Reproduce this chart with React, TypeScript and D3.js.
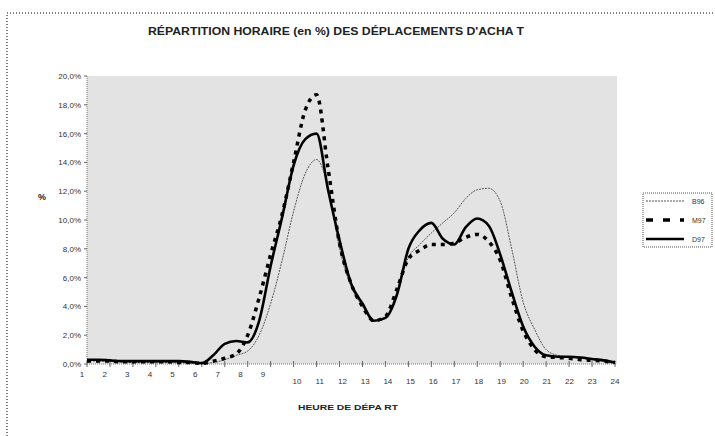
import * as d3 from "d3";

// half-hour grid, values in %
const hours = [
  1, 1.5, 2, 2.5, 3, 3.5, 4, 4.5, 5, 5.5, 6, 6.5, 7, 7.5, 8, 8.5, 9, 9.5, 10,
  10.5, 11, 11.5, 12, 12.5, 13, 13.5, 14, 14.5, 15, 15.5, 16, 16.5, 17, 17.5,
  18, 18.5, 19, 19.5, 20, 20.5, 21, 21.5, 22, 22.5, 23, 23.5, 24,
];

const b96 = [
  0.25, 0.2, 0.2, 0.15, 0.1, 0.1, 0.1, 0.1, 0.1, 0.05, 0.05, 0.1, 0.3, 0.6,
  0.9, 2.0, 4.2, 7.2, 10.6, 13.2, 14.2, 12.3, 8.0, 5.4, 4.0, 3.0, 3.2, 5.0,
  7.4, 8.3, 9.1, 9.8, 10.5, 11.5, 12.1, 12.2, 11.3, 8.0, 4.3, 2.4, 1.0, 0.6,
  0.5, 0.4, 0.3, 0.2, 0.1,
];

const m97 = [
  0.2, 0.2, 0.2, 0.15, 0.15, 0.15, 0.15, 0.15, 0.1, 0.1, 0.05, 0.2, 0.4, 0.7,
  2.0, 4.6, 7.6, 10.4, 14.0, 17.6, 18.7, 13.6, 8.4, 5.6, 4.0, 3.0, 3.3, 5.2,
  7.3, 7.9, 8.3, 8.3, 8.4, 8.8, 9.0, 8.5, 7.2, 4.6, 2.3, 1.0, 0.5, 0.45, 0.4,
  0.3, 0.25, 0.2, 0.1,
];

const d97 = [
  0.3, 0.3, 0.25, 0.2, 0.2, 0.2, 0.2, 0.2, 0.2, 0.15, 0.05, 0.6, 1.4, 1.6,
  1.5, 3.0, 6.8, 10.2, 13.8, 15.6, 16.0, 12.1, 8.6, 5.6, 4.2, 3.0, 3.2, 4.8,
  8.0, 9.3, 9.8, 8.7, 8.3, 9.5, 10.1, 9.6, 7.6, 5.0, 2.6, 1.2, 0.6, 0.5, 0.5,
  0.45, 0.35, 0.25, 0.1,
];

const seriesNames = ["B96", "M97", "D97"];
const xTickLabels = [
  "1", "2", "3", "4", "5", "6", "7", "8", "9", "10", "11", "12", "13", "14",
  "15", "16", "17", "18", "19", "20", "21", "22", "23", "24",
];
const yTickValues = [0, 2, 4, 6, 8, 10, 12, 14, 16, 18, 20];

const title = "RÉPARTITION HORAIRE (en %) DES DÉPLACEMENTS D'ACHA T";
const xTitle = "HEURE DE DÉPA RT";

const W = 715;
const H = 436;
const plot = { left: 87, right: 617, top: 76, bottom: 364 };

const styles = [
  { stroke: "#555", width: 1, dash: "2,1" },
  { stroke: "#000", width: 3.5, dash: "4,5" },
  { stroke: "#000", width: 2.6, dash: null },
];

export default function App() {
  const x = d3.scaleLinear().domain([1, 24]).range([plot.left, 615]);
  const y = d3.scaleLinear().domain([0, 20]).range([plot.bottom, plot.top]);
  // excel put the early labels off their ticks, follow that
  const labelX = d3
    .scaleLinear()
    .domain([1, 9, 10, 24])
    .range([82, 263, 297, 615]);

  const fmt = (v: number) => v.toFixed(1).replace(".", ",") + "%";

  const line = d3
    .line<number>()
    .x((_, i) => x(hours[i]))
    .y((d) => y(d))
    .curve(d3.curveMonotoneX);

  const allSeries = [b96, m97, d97];
  const font = "'Liberation Sans', Arial, sans-serif";

  return (
    <svg
      width={W}
      height={H}
      style={{ position: "absolute", left: 0, top: 0, background: "#fff" }}
      fontFamily={font}
    >
      {/* outer dotted frame */}
      <path
        d={`M7,${H} V13 H${W}`}
        fill="none"
        stroke="#000"
        strokeWidth={1}
        strokeDasharray="1,2"
      />

      <text
        x={336}
        y={35}
        textAnchor="middle"
        fontSize={10}
        fontWeight="bold"
        fill="#222"
        textLength={376}
        lengthAdjust="spacingAndGlyphs"
      >
        {title}
      </text>

      <rect
        x={plot.left}
        y={plot.top}
        width={plot.right - plot.left}
        height={plot.bottom - plot.top}
        fill="#e3e3e3"
      />

      {/* y axis */}
      <line
        x1={plot.left}
        x2={plot.left}
        y1={plot.top}
        y2={plot.bottom}
        stroke="#777"
        strokeDasharray="1,1"
      />
      {yTickValues.map((v) => (
        <g key={v}>
          <line
            x1={plot.left - 3}
            x2={plot.left}
            y1={y(v)}
            y2={y(v)}
            stroke="#666"
          />
          <text
            x={81}
            y={y(v) + 3}
            textAnchor="end"
            fontSize={8}
            fill="#333"
          >
            {fmt(v)}
          </text>
        </g>
      ))}
      <text x={38} y={200} fontSize={9} fontWeight="bold" fill="#222">
        %
      </text>

      {/* x axis */}
      <line
        x1={plot.left}
        x2={plot.right}
        y1={plot.bottom}
        y2={plot.bottom}
        stroke="#777"
        strokeDasharray="1,1"
      />
      {xTickLabels.map((lab, i) => {
        const h = i + 1;
        return (
          <g key={lab}>
            <line
              x1={x(h)}
              x2={x(h)}
              y1={plot.bottom - 3}
              y2={plot.bottom + 3}
              stroke="#666"
            />
            <text
              x={labelX(h)}
              y={h < 10 ? 377 : 384}
              textAnchor="middle"
              fontSize={8}
              fill="#333"
            >
              {lab}
            </text>
          </g>
        );
      })}
      <text
        x={348}
        y={410}
        textAnchor="middle"
        fontSize={8}
        fontWeight="bold"
        fill="#222"
        textLength={100}
        lengthAdjust="spacingAndGlyphs"
      >
        {xTitle}
      </text>

      {/* series */}
      {allSeries.map((s, i) => (
        <path
          key={seriesNames[i]}
          d={line(s) ?? ""}
          fill="none"
          stroke={styles[i].stroke}
          strokeWidth={styles[i].width}
          strokeDasharray={styles[i].dash ?? undefined}
          strokeLinejoin="round"
        />
      ))}

      {/* legend */}
      <rect
        x={643}
        y={193}
        width={69}
        height={54}
        fill="#fff"
        stroke="#555"
        strokeDasharray="1,1"
      />
      {seriesNames.map((name, i) => {
        const ly = 201 + i * 19;
        return (
          <g key={name}>
            <line
              x1={646}
              x2={684}
              y1={ly}
              y2={ly}
              stroke={styles[i].stroke}
              strokeWidth={styles[i].width}
              strokeDasharray={i === 1 ? "7,10" : styles[i].dash ?? undefined}
            />
            <text x={692} y={ly + 3} fontSize={7} fill="#333">
              {name}
            </text>
          </g>
        );
      })}
    </svg>
  );
}
